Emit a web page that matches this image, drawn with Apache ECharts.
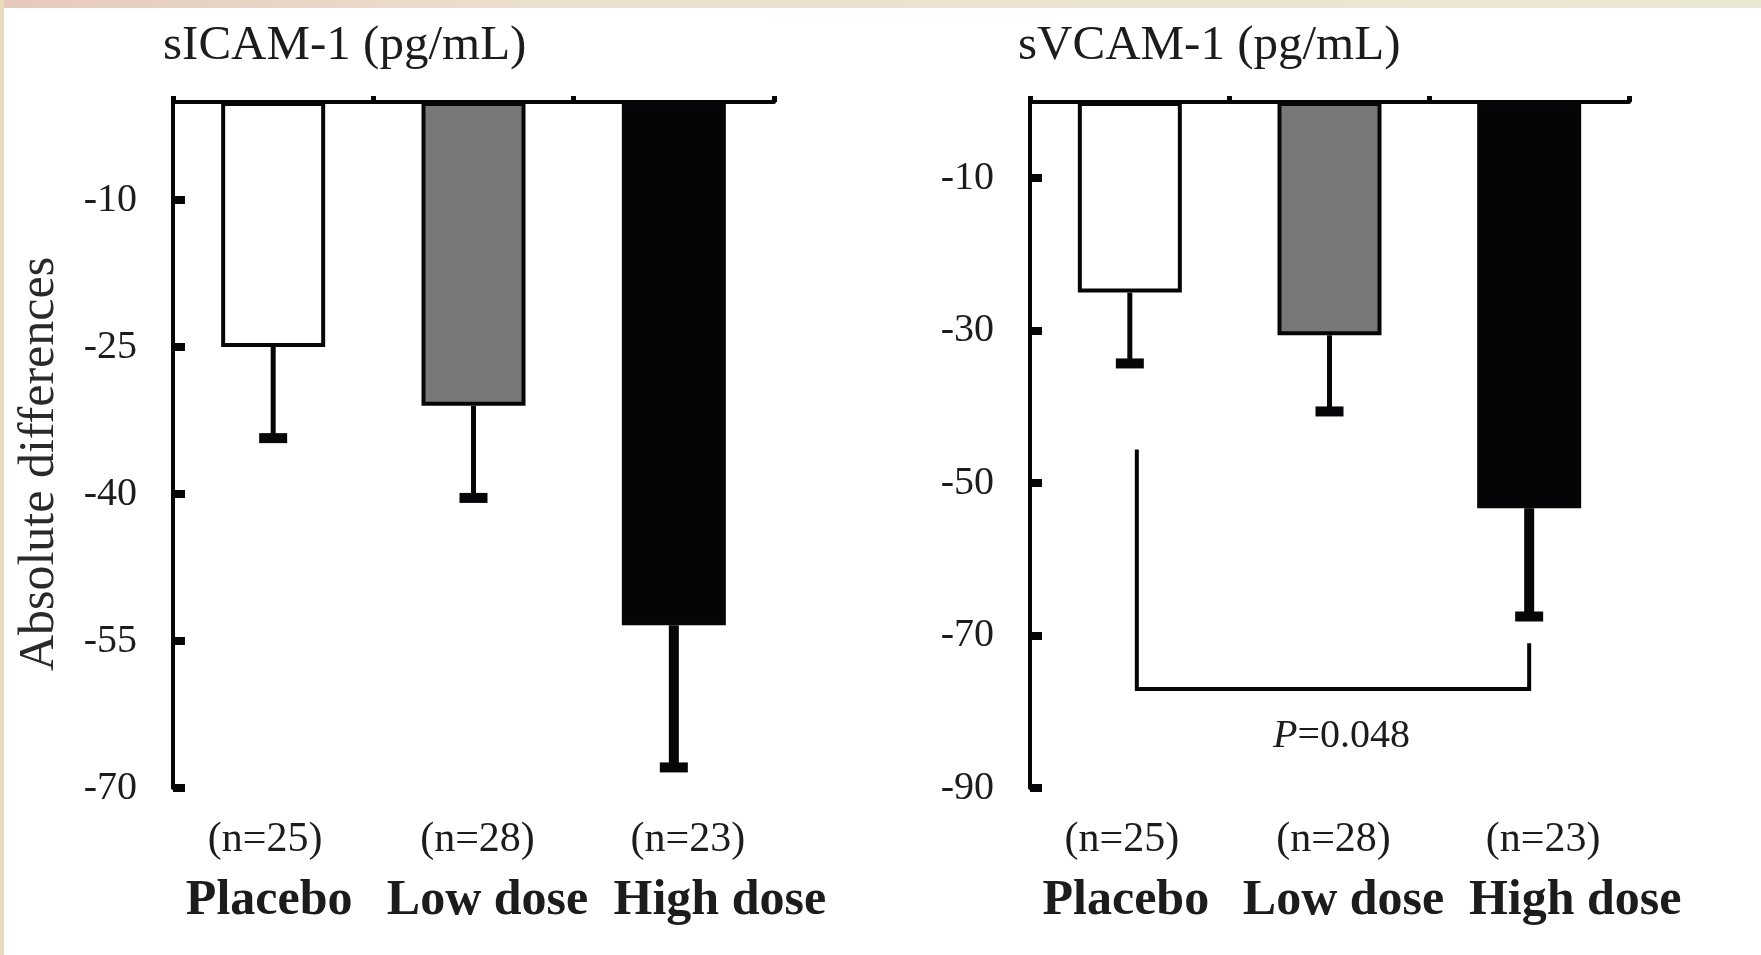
<!DOCTYPE html>
<html><head><meta charset="utf-8">
<script src="https://cdn.jsdelivr.net/npm/echarts@6/dist/echarts.min.js"></script>
<style>html,body{margin:0;padding:0;background:#fff}#c{width:1761px;height:955px}</style>
</head><body><div id="c"></div>
<script>
// ---- data ----
const categories = ['Placebo', 'Low dose', 'High dose'];
const sampleSizes = ['(n=25)', '(n=28)', '(n=23)'];
const icamMeans = [-25.0, -31.0, -53.4];
const icamErrEnds = [-34.3, -40.4, -67.9];
const vcamMeans = [-25.0, -30.6, -53.3];
const vcamErrEnds = [-34.3, -40.6, -67.5];
const icamTicks = [-10, -25, -40, -55, -70];
const vcamTicks = [-10, -30, -50, -70, -90];
const bracketPoints = [0, 2, -45.6, -77, -71]; // fromCat, toCat, leftTop, bottom, rightTop
const pLabelAt = [1, -83.3];
const pLabel = ['P', '=0.048'];
const titles = ['sICAM-1 (pg/mL)', 'sVCAM-1 (pg/mL)'];
const yName = 'Absolute differences';

// ---- styles ----
const FONT = "'Liberation Serif', 'Times New Roman', serif";
const INK = '#060608';
const TXT = '#1c1c1c';
const barFills = ['#ffffff', '#787878', '#050507'];
const errWidths = [5, 5, 10];
const labelPads = {
  n: [[0, 16, 0, 0], [0, 0, 0, 8], [0, 0, 0, 28]],
  c: [[0, 8, 0, 0], [0, 0, 0, 28], [0, 0, 0, 92]]
};

const rich = {};
for (let i = 0; i < 3; i++) {
  rich['n' + i] = {fontFamily: FONT, fontSize: 42, color: TXT, lineHeight: 50, padding: labelPads.n[i]};
  rich['c' + i] = {fontFamily: FONT, fontSize: 50, fontWeight: 'bold', color: TXT, lineHeight: 72, padding: labelPads.c[i]};
}

function topX(grid) {
  return {
    gridIndex: grid, type: 'category', data: categories, position: 'top',
    axisLine: {show: true, onZero: false, lineStyle: {color: INK, width: 4}},
    axisTick: {show: true, inside: false, length: 6, lineStyle: {color: INK, width: 5}},
    axisLabel: {show: false}, splitLine: {show: false}
  };
}
function bottomX(grid) {
  return {
    gridIndex: grid, type: 'category', data: categories, position: 'bottom',
    axisLine: {show: false, onZero: false}, axisTick: {show: false}, splitLine: {show: false},
    axisLabel: {
      interval: 0, margin: 27,
      formatter: (v, i) => '{n' + i + '|' + sampleSizes[i] + '}\n{c' + i + '|' + v + '}',
      rich: rich
    }
  };
}
function yAx(grid, min, ticks, withName) {
  const o = {
    gridIndex: grid, type: 'value', min: min, max: 0,
    axisLine: {show: true, onZero: false, lineStyle: {color: INK, width: 4}},
    axisTick: {show: true, inside: true, length: 12, customValues: ticks, lineStyle: {color: INK, width: 8}},
    axisLabel: {customValues: ticks, margin: 36, fontFamily: FONT, fontSize: 40, color: TXT},
    splitLine: {show: false}
  };
  if (withName) {
    Object.assign(o, {
      name: yName, nameLocation: 'middle', nameRotate: 90, nameGap: 108,
      nameTextStyle: {fontFamily: FONT, fontSize: 50, color: '#2a2a2a', padding: [0, 38, 0, 0]}
    });
  }
  return o;
}
function barSeries(xi, yi, means) {
  return {
    type: 'bar', xAxisIndex: xi, yAxisIndex: yi, barWidth: 104,
    data: means.map((m, i) => ({value: m, itemStyle: {color: barFills[i]}})),
    itemStyle: {borderColor: INK, borderWidth: 4},
    emphasis: {disabled: true}, z: 2
  };
}
function errSeries(xi, yi, means, ends) {
  return {
    type: 'custom', xAxisIndex: xi, yAxisIndex: yi, z: 3,
    encode: {x: 0, y: [1, 2]},
    data: means.map((m, i) => [i, m, ends[i]]),
    renderItem: function (params, api) {
      const i = api.value(0);
      const a = api.coord([i, api.value(1)]);
      const b = api.coord([i, api.value(2)]);
      return {type: 'group', children: [
        {type: 'line', shape: {x1: a[0], y1: a[1], x2: b[0], y2: b[1]}, style: {stroke: INK, lineWidth: errWidths[i]}},
        {type: 'rect', shape: {x: b[0] - 14, y: b[1] - 5, width: 28, height: 10}, style: {fill: INK}}
      ]};
    }
  };
}

const option = {
  backgroundColor: '#ffffff',
  animation: false,
  title: [
    {text: titles[0], left: 158, top: 17, textStyle: {fontFamily: FONT, fontSize: 49, fontWeight: 'normal', color: TXT}},
    {text: titles[1], left: 1013, top: 17, textStyle: {fontFamily: FONT, fontSize: 49, fontWeight: 'normal', color: TXT}}
  ],
  grid: [
    {left: 173, top: 102, width: 601, height: 686, containLabel: false, outerBoundsMode: 'none'},
    {left: 1030, top: 102, width: 599, height: 686, containLabel: false, outerBoundsMode: 'none'}
  ],
  xAxis: [topX(0), bottomX(0), topX(1), bottomX(1)],
  yAxis: [yAx(0, -70, icamTicks, true), yAx(1, -90, vcamTicks, false)],
  series: [
    barSeries(0, 0, icamMeans),
    errSeries(0, 0, icamMeans, icamErrEnds),
    barSeries(2, 1, vcamMeans),
    errSeries(2, 1, vcamMeans, vcamErrEnds),
    {
      type: 'custom', xAxisIndex: 2, yAxisIndex: 1, z: 3,
      encode: {x: 0, y: 2},
      data: [bracketPoints],
      renderItem: function (params, api) {
        const l = api.coord([api.value(0), api.value(2)]);
        const bl = api.coord([api.value(0), api.value(3)]);
        const br = api.coord([api.value(1), api.value(3)]);
        const r = api.coord([api.value(1), api.value(4)]);
        const dx = 7;
        return {type: 'polyline', shape: {points: [[l[0] + dx, l[1]], [bl[0] + dx, bl[1]], br, r]},
                style: {stroke: INK, lineWidth: 4, fill: null}};
      }
    },
    {
      type: 'custom', xAxisIndex: 2, yAxisIndex: 1, z: 3,
      encode: {x: 0, y: 1},
      data: [pLabelAt],
      renderItem: function (params, api) {
        const p = api.coord([api.value(0), api.value(1)]);
        return {type: 'text', x: p[0] + 12, y: p[1], style: {
          text: '{i|' + pLabel[0] + '}{r|' + pLabel[1] + '}',
          rich: {
            i: {fontFamily: FONT, fontSize: 40, fontStyle: 'italic', fill: TXT, color: TXT},
            r: {fontFamily: FONT, fontSize: 40, fill: TXT, color: TXT}
          },
          align: 'center', verticalAlign: 'middle', textAlign: 'center', textVerticalAlign: 'middle'
        }};
      }
    }
  ],
  graphic: [
    {type: 'rect', left: 0, top: 0, z: 100, shape: {width: 1761, height: 8},
     style: {fill: {type: 'linear', x: 0, y: 0, x2: 1, y2: 0, colorStops: [
       {offset: 0, color: '#e6c8bc'}, {offset: 0.3, color: '#ebe0cc'}, {offset: 1, color: '#ebe8d2'}]}}},
    {type: 'rect', left: 0, top: 0, z: 100, shape: {width: 4, height: 955}, style: {fill: '#e9dcbc'}}
  ]
};

const chart = echarts.init(document.getElementById('c'), null, {renderer: 'canvas'});
chart.setOption(option);
</script>
</body></html>
